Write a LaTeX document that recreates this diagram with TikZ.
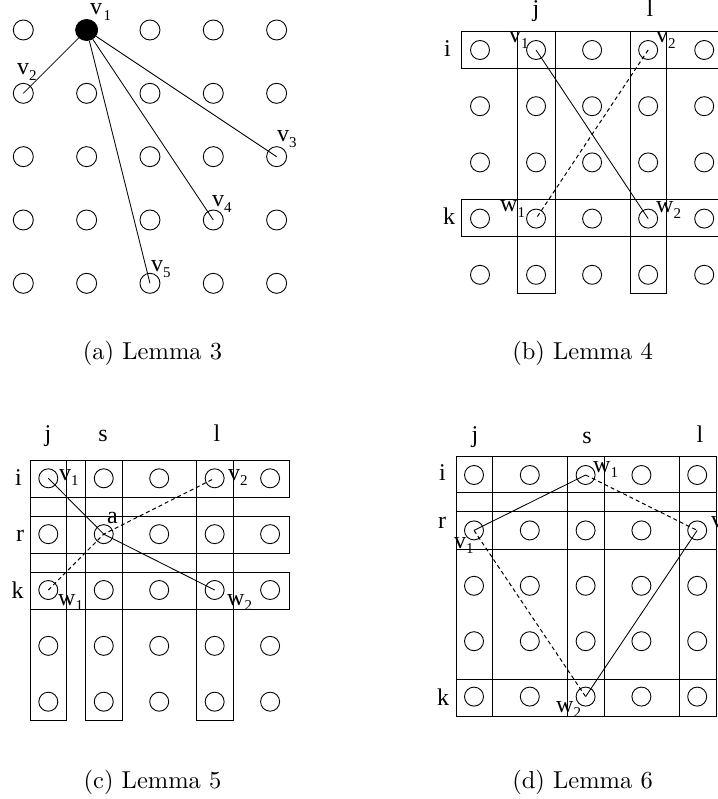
\documentclass[tikz,border=0pt]{standalone}
\usepackage{fontspec}
\usepackage{graphicx}
\newfontfamily\tfont{Liberation Serif}
\newcommand{\lsb}[1]{\raisebox{-5.5pt}{\fontsize{15}{15}\selectfont #1}}
\usetikzlibrary{shapes.geometric}
\tikzset{
  cdot/.style={circle, draw, line width=0.9pt, minimum size=19pt, inner sep=0pt},
  adot/.style={circle, draw, line width=0.9pt, minimum size=20pt, inner sep=0pt},
  bigdot/.style={ellipse, draw, fill=black, line width=0.9pt, minimum width=22pt, minimum height=21pt, inner sep=0pt},
  lab/.style={font=\tfont\fontsize{24}{24}\selectfont, inner sep=0pt, anchor=base west},
  hdr/.style={font=\tfont\fontsize{24}{24}\selectfont, inner sep=0pt, anchor=base},
  captxt/.style={inner sep=0pt, anchor=base},
  conn/.style={line width=0.85pt},
  dconn/.style={line width=1pt, dash pattern=on 4pt off 3pt},
  rbox/.style={line width=1pt}
}
\begin{document}
\begin{tikzpicture}[x=1pt, y=-1pt]
\useasboundingbox (0,0) rectangle (717,799);
\fill[white] (0,0) rectangle (717,799);

% ---------- (a) ----------
\foreach \i in {0,...,4}{
  \foreach \j in {0,...,4}{
    \ifnum\i\j=1
      \node[bigdot] (a\i\j) at ({23.3+63.33*\j},{30+63.33*\i}) {};
    \else
      \node[adot] (a\i\j) at ({23.3+63.33*\j},{30+63.33*\i}) {};
    \fi
  }
}
\draw[conn] (a01) -- (a10.center);
\draw[conn] (a01) -- (a24.center);
\draw[conn] (a01) -- (a33.center);
\draw[conn] (a01) -- (a42.center);
\node[lab] (la1) at (90,15) {v\hspace{1.5pt}\lsb{1}};
\node[lab] (la2) at (17,75) {v\lsb{2}};
\node[lab] (la3) at (277,142) {v\lsb{3}};
\node[lab] (la4) at (212,207) {v\lsb{4}};
\node[lab] (la5) at (151,272) {v\lsb{5}};
\node[captxt] (capa) at (152.5,359) {\scalebox{2.45}{(a) Lemma 3}};

% ---------- (b) ----------
\draw[rbox] (461.7,31.7) rectangle (725,68.3);
\draw[rbox] (461.7,200) rectangle (725,237);
\draw[rbox] (517.7,31.7) rectangle (555,293.3);
\draw[rbox] (630,31.7) rectangle (666.7,293.3);
\foreach \i in {0,...,4}{
  \foreach \j in {0,...,4}{
    \node[cdot] (b\i\j) at ({480+56.05*\j},{50+56.2*\i}) {};
  }
}
\draw[conn] (b01.center) -- (b33.center);
\draw[dconn] (b03.center) -- (b31.center);
\node[hdr] (bj) at (536,17) {j};
\node[hdr] (bl) at (650,17) {l};
\node[hdr] (bi) at (447.5,57) {i};
\node[hdr] (bk) at (449,225) {k};
\node[lab] (lbv1) at (509,43) {v\lsb{1}};
\node[lab] (lbv2) at (656,43) {v\lsb{2}};
\node[lab] (lbw1) at (500,212) {w\lsb{1}};
\node[lab] (lbw2) at (656,213) {w\lsb{2}};
\node[captxt] (capb) at (582.5,359) {\scalebox{2.45}{(b) Lemma 4}};

% ---------- (c) ----------
\draw[rbox] (30,460) rectangle (289.3,497.3);
\draw[rbox] (30,516) rectangle (289.3,553.3);
\draw[rbox] (30,572.3) rectangle (289.3,609.3);
\draw[rbox] (30,460) rectangle (66.7,720.7);
\draw[rbox] (85.7,460) rectangle (122.3,720.7);
\draw[rbox] (196.7,460) rectangle (233.3,720.7);
\foreach \i in {0,...,4}{
  \foreach \j in {0,...,4}{
    \node[cdot] (c\i\j) at ({48.3+55.45*\j},{478.3+55.85*\i}) {};
  }
}
\draw[conn] (c00.center) -- (c11.center) -- (c23.center);
\draw[dconn] (c20.center) -- (c11.center) -- (c03.center);
\node[hdr] (cj) at (48,441.7) {j};
\node[hdr] (cs) at (103,441.7) {s};
\node[hdr] (cl) at (217,441.7) {l};
\node[hdr] (ci) at (18.5,485) {i};
\node[hdr] (cr) at (20,541.7) {r};
\node[hdr] (ck) at (17.5,598) {k};
\node[lab] (lcv1) at (59,480) {v\lsb{1}};
\node[lab] (lcv2) at (228,480) {v\lsb{2}};
\node[lab] (lca) at (107,523) {a};
\node[lab] (lcw1) at (58,605) {w\lsb{1}};
\node[lab] (lcw2) at (227,605) {w\lsb{2}};
\node[captxt] (capc) at (152.5,788) {\scalebox{2.45}{(c) Lemma 5}};

% ---------- (d) ----------
\draw[rbox] (456,456) rectangle (716,492.7);
\draw[rbox] (456,511.7) rectangle (716,549);
\draw[rbox] (456,679.3) rectangle (716,716);
\draw[rbox] (456,456) rectangle (492.7,716);
\draw[rbox] (567.3,456) rectangle (604.3,716);
\draw[rbox] (679.3,456) rectangle (716,716);
\foreach \i in {0,...,4}{
  \foreach \j in {0,...,4}{
    \node[cdot] (d\i\j) at ({474+55.8*\j},{475+55.4*\i}) {};
  }
}
\draw[conn] (d10.center) -- (d02.center);
\draw[dconn] (d02.center) -- (d14.center);
\draw[conn] (d14.center) -- (d42.center);
\draw[dconn] (d10.center) -- (d42.center);
\node[hdr] (dj) at (475,442) {j};
\node[hdr] (ds) at (587,443) {s};
\node[hdr] (dl) at (700,442) {l};
\node[hdr] (di) at (442.5,480) {i};
\node[hdr] (dr) at (442,528) {r};
\node[hdr] (dk) at (443,705) {k};
\node[lab] (ldw1) at (593,472) {w\lsb{1}};
\node[lab] (ldv2) at (711,527) {v\lsb{2}};
\node[lab] (ldv1) at (454,548) {v\lsb{1}};
\node[lab] (ldw2) at (556,712) {w\lsb{2}};
\node[captxt] (capd) at (582.5,788) {\scalebox{2.45}{(d) Lemma 6}};
\end{tikzpicture}
\end{document}
